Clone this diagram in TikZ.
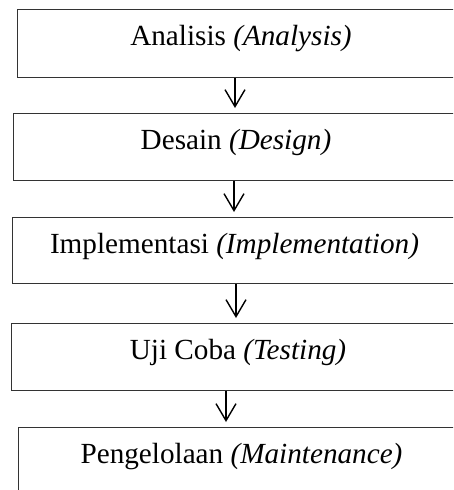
\documentclass[tikz,border=0pt]{standalone}
\usepackage{fontspec}
\setmainfont{Liberation Serif}
\usetikzlibrary{arrows.meta,positioning}

\begin{document}
\begin{tikzpicture}[
    x=1pt,y=-1pt,
    kotak/.style = {rectangle,draw=black!80,line width=1.1pt,fill=white,
                    inner sep=0pt,minimum width=470pt},
    teks/.style  = {font=\fontsize{29.2}{34}\selectfont,inner sep=0pt,anchor=base},
    panah/.style = {-{Straight Barb[length=17pt,width=20pt,line width=1.4pt]},
                    black,line width=1.4pt,shorten >=5pt},
  ]
  \useasboundingbox (0,0) rectangle (453,490);
  \clip (0,0) rectangle (453,490);

  % kotak tahapan (sisi kanan terpotong)
  \node[kotak,minimum height=68pt,anchor=north west] (analisis)  at (17,9)  {};
  \node[kotak,minimum height=67pt,anchor=north west] (desain)    at (13,113) {};
  \node[kotak,minimum height=66pt,anchor=north west] (implement) at (12,217) {};
  \node[kotak,minimum height=67pt,anchor=north west] (ujicoba)   at (11,323) {};
  \node[kotak,minimum height=90pt,anchor=north west] (kelola)    at (18,427) {};

  \node[teks] (t1) at (241,45)    {Analisis \textit{(Analysis)}};
  \node[teks] (t2) at (236,149)   {Desain \textit{(Design)}};
  \node[teks] (t3) at (234.5,253) {Implementasi \textit{(Implementation)}};
  \node[teks] (t4) at (238,359)   {Uji Coba \textit{(Testing)}};
  \node[teks] (t5) at (241.5,463) {Pengelolaan \textit{(Maintenance)}};

  \draw[panah] (analisis.south west -| 235,0)  -- (desain.north west -| 235,0);
  \draw[panah] (desain.south west -| 234,0)    -- (implement.north west -| 234,0);
  \draw[panah] (implement.south west -| 236,0) -- (ujicoba.north west -| 236,0);
  \draw[panah] (ujicoba.south west -| 226,0)   -- (kelola.north west -| 226,0);

\end{tikzpicture}
\end{document}
